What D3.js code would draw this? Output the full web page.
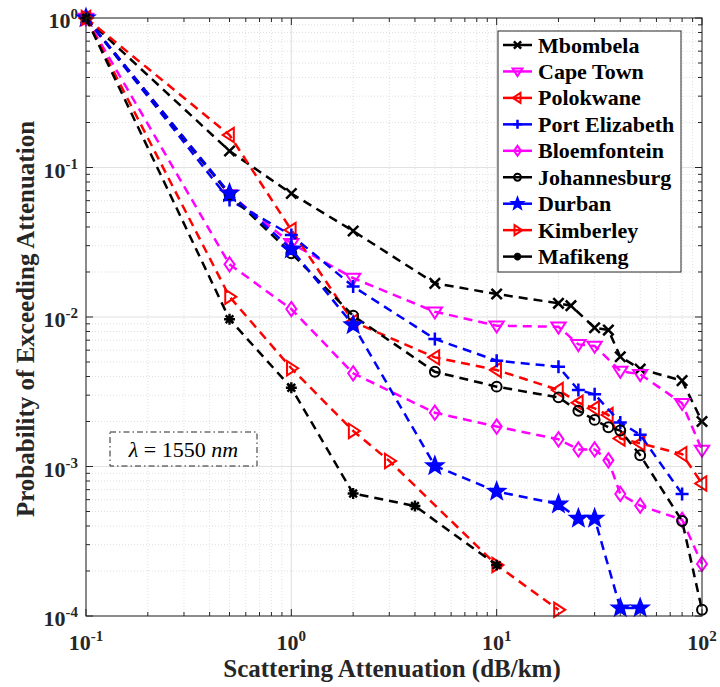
<!DOCTYPE html>
<html><head><meta charset="utf-8">
<script src="https://cdn.jsdelivr.net/npm/d3@7"></script>
<style>
html,body{margin:0;padding:0;background:#fff;}
svg text{font-family:"Liberation Serif","Times New Roman","DejaVu Serif",serif;}
</style>
</head><body>
<svg id="chart" width="720" height="687"></svg>
<script>
// ---------------- data ----------------
const seriesNames = ["Mbombela","Cape Town","Polokwane","Port Elizabeth","Bloemfontein","Johannesburg","Durban","Kimberley","Mafikeng"];
const mbombelaX = [0.1,0.5,1,2,5,10,20,23,30,35,40,50,80,100];
const mbombelaY = [1,0.129,0.067,0.0376,0.0168,0.01425,0.01235,0.0119,0.00847,0.00818,0.00542,0.00449,0.00375,0.0020];
const capeTownX = [0.1,0.5,1,2,5,10,20,25,30,40,50,80,100];
const capeTownY = [1,0.066,0.0311,0.0182,0.01085,0.00875,0.0086,0.00656,0.0064,0.00435,0.00414,0.00265,0.00129];
const polokwaneX = [0.1,0.5,1,2,5,10,20,25,30,35,40,50,80,100];
const polokwaneY = [1,0.165,0.0382,0.0093,0.00537,0.00442,0.00325,0.00267,0.00245,0.00221,0.00154,0.00143,0.00121,0.00077];
const portElizabethX = [0.1,0.5,1,2,5,10,20,25,30,40,50,80];
const portElizabethY = [1,0.0606,0.0353,0.016,0.00713,0.0051,0.00465,0.00325,0.00304,0.00197,0.00163,0.000655];
const bloemfonteinX = [0.1,0.5,1,2,5,10,20,25,30,35,40,50,80,100];
const bloemfonteinY = [1,0.0225,0.0113,0.0042,0.00229,0.00185,0.00152,0.0013,0.0013,0.0011,0.000655,0.000547,0.00044,0.000223];
const johannesburgX = [0.1,0.5,1,2,5,10,20,25,30,35,40,50,80,100];
const johannesburgY = [1,0.066,0.0267,0.0102,0.0043,0.00342,0.0029,0.00236,0.00205,0.00183,0.00174,0.00119,0.000432,0.00011];
const durbanX = [0.1,0.5,1,2,5,10,20,25,30,40,50];
const durbanY = [1,0.0672,0.0284,0.00884,0.00101,0.00068,0.00056,0.00045,0.00045,0.000113,0.000113];
const kimberleyX = [0.1,0.5,1,2,3,10,20];
const kimberleyY = [1,0.01367,0.00454,0.00173,0.00109,0.000219,0.00011];
const mafikengX = [0.1,0.5,1,2,4,10];
const mafikengY = [1,0.00966,0.00336,0.00066,0.000544,0.000219];

const xTickValues = [0.1,1,10,100];
const xTickExp = ["-1","0","1","2"];
const yTickValues = [1e-4,1e-3,1e-2,1e-1,1];
const yTickExp = ["-4","-3","-2","-1","0"];
const xLabel = "Scattering Attenuation (dB/km)";
const yLabel = "Probability of Exceeding Attenuation";

// ---------------- styles ----------------
const styles = [
  {color:"#000000", marker:"x"},
  {color:"#ff00ff", marker:"v"},
  {color:"#ff0000", marker:"<"},
  {color:"#0000ff", marker:"+"},
  {color:"#ff00ff", marker:"d"},
  {color:"#000000", marker:"o"},
  {color:"#0000ff", marker:"p"},
  {color:"#ff0000", marker:">"},
  {color:"#000000", marker:"*"}
];
const seriesData = [
  [mbombelaX,mbombelaY],[capeTownX,capeTownY],[polokwaneX,polokwaneY],
  [portElizabethX,portElizabethY],[bloemfonteinX,bloemfonteinY],[johannesburgX,johannesburgY],
  [durbanX,durbanY],[kimberleyX,kimberleyY],[mafikengX,mafikengY]
];

const L=86, R=702, T=18, B=616;
const x = d3.scaleLog().domain([0.1,100]).range([L,R]);
const y = d3.scaleLog().domain([1e-4,1]).range([B,T]);
const svg = d3.select("#chart");

// minor/major grid
const g = svg.append("g");
const xMinor = [], yMinor = [];
for (let e=-1;e<2;e++) for (let k=2;k<=9;k++) xMinor.push(k*Math.pow(10,e));
for (let e=-4;e<0;e++) for (let k=2;k<=9;k++) yMinor.push(k*Math.pow(10,e));
g.selectAll(".xm").data(xMinor).enter().append("line")
  .attr("x1",d=>x(d)).attr("x2",d=>x(d)).attr("y1",T).attr("y2",B)
  .attr("stroke","#d8d8d8").attr("stroke-width",0.8).attr("stroke-dasharray","1,2");
g.selectAll(".ym").data(yMinor).enter().append("line")
  .attr("y1",d=>y(d)).attr("y2",d=>y(d)).attr("x1",L).attr("x2",R)
  .attr("stroke","#d8d8d8").attr("stroke-width",0.8).attr("stroke-dasharray","1,2");
g.selectAll(".xM").data(xTickValues).enter().append("line")
  .attr("x1",d=>x(d)).attr("x2",d=>x(d)).attr("y1",T).attr("y2",B)
  .attr("stroke","#e2e2e2").attr("stroke-width",1.2);
g.selectAll(".yM").data(yTickValues).enter().append("line")
  .attr("y1",d=>y(d)).attr("y2",d=>y(d)).attr("x1",L).attr("x2",R)
  .attr("stroke","#e2e2e2").attr("stroke-width",1.2);

// ticks inward on all four sides
const tk = svg.append("g").attr("stroke","#262626").attr("stroke-width",1);
const allX = xTickValues.map(v=>({v,len:7})).concat(xMinor.map(v=>({v,len:4})));
const allY = yTickValues.map(v=>({v,len:7})).concat(yMinor.map(v=>({v,len:4})));
allX.forEach(t=>{
  tk.append("line").attr("x1",x(t.v)).attr("x2",x(t.v)).attr("y1",B).attr("y2",B-t.len);
  tk.append("line").attr("x1",x(t.v)).attr("x2",x(t.v)).attr("y1",T).attr("y2",T+t.len);
});
allY.forEach(t=>{
  tk.append("line").attr("y1",y(t.v)).attr("y2",y(t.v)).attr("x1",L).attr("x2",L+t.len);
  tk.append("line").attr("y1",y(t.v)).attr("y2",y(t.v)).attr("x1",R).attr("x2",R-t.len);
});

// tick labels
xTickValues.forEach((v,i)=>{
  const t = svg.append("text").attr("x",x(v)).attr("y",650).attr("text-anchor","middle")
    .attr("font-weight","bold").attr("font-size",22).attr("fill","#262626");
  t.append("tspan").text("10");
  t.append("tspan").attr("font-size",15).attr("dy",-9).text(xTickExp[i]);
});
yTickValues.forEach((v,i)=>{
  const t = svg.append("text").attr("x",78).attr("y",y(v)+10).attr("text-anchor","end")
    .attr("font-weight","bold").attr("font-size",22).attr("fill","#262626");
  t.append("tspan").text("10");
  t.append("tspan").attr("font-size",15).attr("dy",-9).text(yTickExp[i]);
});

// axis labels
svg.append("text").attr("x",392).attr("y",677).attr("text-anchor","middle")
  .attr("font-weight","bold").attr("font-size",25).attr("fill","#262626").text(xLabel);
svg.append("text").attr("transform",`translate(34,${(T+B)/2+2}) rotate(-90)`).attr("text-anchor","middle")
  .attr("font-weight","bold").attr("font-size",25).attr("fill","#262626").text(yLabel);

// markers
function drawMarker(sel, type, cx, cy, color, s){
  const m = sel.append("g").attr("transform",`translate(${cx},${cy})`);
  const sw = 2;
  if (type==="x"){
    const a=s*0.4;
    m.append("path").attr("d",`M${-a},${-a}L${a},${a}M${-a},${a}L${a},${-a}`).attr("stroke",color).attr("stroke-width",sw+0.5).attr("fill","none");
  } else if (type==="+"){
    const a=s*0.5;
    m.append("path").attr("d",`M${-a},0L${a},0M0,${-a}L0,${a}`).attr("stroke",color).attr("stroke-width",sw+0.5).attr("fill","none");
  } else if (type==="v"){
    const a=s*0.55;
    m.append("path").attr("d",`M${-a},${-a*0.6}L${a},${-a*0.6}L0,${a*0.95}Z`).attr("stroke",color).attr("stroke-width",sw).attr("fill","none");
  } else if (type==="<"){
    const a=s*0.55;
    m.append("path").attr("d",`M${a*0.6},${-a}L${a*0.6},${a}L${-a*0.95},0Z`).attr("stroke",color).attr("stroke-width",sw).attr("fill","none");
  } else if (type===">"){
    const a=s*0.55;
    m.append("path").attr("d",`M${-a*0.6},${-a}L${-a*0.6},${a}L${a*0.95},0Z`).attr("stroke",color).attr("stroke-width",sw).attr("fill","none");
  } else if (type==="d"){
    const a=s*0.55;
    m.append("path").attr("d",`M0,${-a}L${a*0.7},0L0,${a}L${-a*0.7},0Z`).attr("stroke",color).attr("stroke-width",sw).attr("fill","none");
  } else if (type==="o"){
    m.append("circle").attr("r",s*0.38).attr("stroke",color).attr("stroke-width",sw).attr("fill","none");
  } else if (type==="p"){
    const ro=s*0.72, ri=ro*0.42; let d="";
    for(let k=0;k<10;k++){const r=k%2?ri:ro; const a=-Math.PI/2+k*Math.PI/5; d+=(k?"L":"M")+(r*Math.cos(a)).toFixed(2)+","+(r*Math.sin(a)).toFixed(2);}
    m.append("path").attr("d",d+"Z").attr("stroke",color).attr("stroke-width",1.5).attr("fill",color).attr("stroke-linejoin","miter");
  } else if (type==="*"){
    const a=s*0.42; let d="";
    for(let k=0;k<4;k++){const ang=k*Math.PI/4; d+=`M${(-a*Math.cos(ang)).toFixed(2)},${(-a*Math.sin(ang)).toFixed(2)}L${(a*Math.cos(ang)).toFixed(2)},${(a*Math.sin(ang)).toFixed(2)}`;}
    m.append("circle").attr("r",a*0.55).attr("fill",color);
    m.append("path").attr("d",d).attr("stroke",color).attr("stroke-width",2.4).attr("fill","none");
  }
}

const line = d3.line().x(d=>x(d[0])).y(d=>y(d[1]));
const plot = svg.append("g");
seriesData.forEach((sd,i)=>{
  const pts = sd[0].map((v,j)=>[v, sd[1][j]]);
  plot.append("path").datum(pts).attr("d",line).attr("fill","none")
    .attr("stroke",styles[i].color).attr("stroke-width",2.5).attr("stroke-dasharray","9,6");
  pts.forEach(p=>drawMarker(plot, styles[i].marker, x(p[0]), y(p[1]), styles[i].color, 13));
});

// axes box
svg.append("rect").attr("x",L).attr("y",T).attr("width",R-L).attr("height",B-T)
  .attr("fill","none").attr("stroke","#262626").attr("stroke-width",1);

// legend
const lg = svg.append("g");
const lx=498, ly=31, lw=183, lh=241;
lg.append("rect").attr("x",lx).attr("y",ly).attr("width",lw).attr("height",lh)
  .attr("fill","#fff").attr("stroke","#262626").attr("stroke-width",1);
seriesNames.forEach((n,i)=>{
  const cy = 45 + i*26.45;
  lg.append("line").attr("x1",503).attr("x2",532).attr("y1",cy).attr("y2",cy)
    .attr("stroke",styles[i].color).attr("stroke-width",2.5);
  drawMarker(lg, styles[i].marker, 517.5, cy, styles[i].color, 9);
  lg.append("text").attr("x",538).attr("y",cy+7.5).attr("font-weight","bold")
    .attr("font-size",22).attr("fill","#000").text(n);
});

// annotation box
svg.append("rect").attr("x",110).attr("y",432).attr("width",147).attr("height",34)
  .attr("fill","#fff").attr("stroke","#262626").attr("stroke-width",1).attr("stroke-dasharray","6,3,1.5,3");
const ann = svg.append("text").attr("x",183.5).attr("y",457).attr("text-anchor","middle")
  .attr("font-size",22).attr("fill","#000");
ann.append("tspan").attr("font-style","italic").text("\u03bb");
ann.append("tspan").text(" = 1550 ");
ann.append("tspan").attr("font-style","italic").text("nm");
</script>
</body></html>
